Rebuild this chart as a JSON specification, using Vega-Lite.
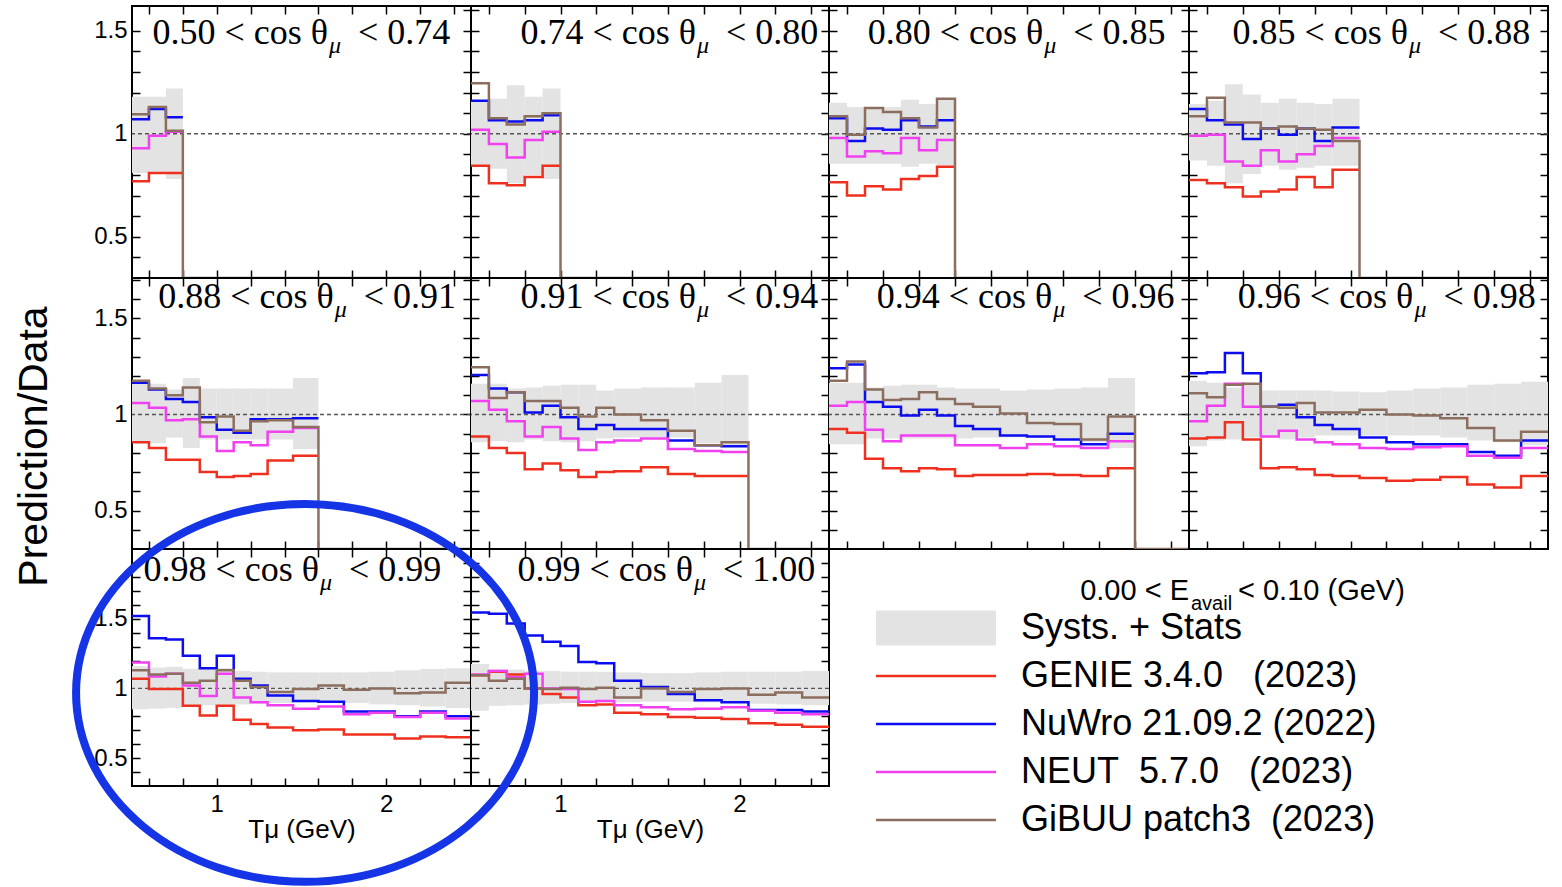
{
"$schema": "https://vega.github.io/schema/vega-lite/v6.json",
"background": "white",
"padding": {"left": 11, "top": 4, "right": 0, "bottom": 0},
"columns": 4,
"spacing": 0,
"bounds": "flush",
"config": {
  "view": {"stroke": "black", "strokeWidth": 2},
  "concat": {"spacing": 0},
  "axis": {"domain": false, "grid": false, "tickColor": "black", "tickWidth": 1.5, "tickSize": -8, "labelFont": "Liberation Sans", "labelFontSize": 24, "labelColor": "black", "labelOverlap": false, "labelFlush": false, "titleFont": "Liberation Sans", "titleFontWeight": "normal", "titleColor": "black"},
  "axisLeft": {"labelPadding": 13},
  "axisBottom": {"labelPadding": 14},
  "text": {"font": "Liberation Serif", "fontSize": 36, "baseline": "alphabetic", "color": "black"}
},
"datasets": {
"titles": [
{"p":1,"a":"0.50 < cos θ","z":"< 0.74"},{"p":2,"a":"0.74 < cos θ","z":"< 0.80"},{"p":3,"a":"0.80 < cos θ","z":"< 0.85"},{"p":4,"a":"0.85 < cos θ","z":"< 0.88"},{"p":5,"a":"0.88 < cos θ","z":"< 0.91"},{"p":6,"a":"0.91 < cos θ","z":"< 0.94"},{"p":7,"a":"0.94 < cos θ","z":"< 0.96"},{"p":8,"a":"0.96 < cos θ","z":"< 0.98"},{"p":9,"a":"0.98 < cos θ","z":"< 0.99"},{"p":10,"a":"0.99 < cos θ","z":"< 1.00"}
],
"leg": [
{"k":"hdr","m":"Header"},
{"k":"Systs. + Stats","m":"Band"},
{"k":"GENIE 3.4.0\u00a0\u00a0\u00a0(2023)","m":"GENIE"},
{"k":"NuWro 21.09.2 (2022)","m":"NuWro"},
{"k":"NEUT\u00a0\u00a05.7.0\u00a0\u00a0\u00a0(2023)","m":"NEUT"},
{"k":"GiBUU patch3\u00a0\u00a0(2023)","m":"GiBUU"}
],
"bins": [
{"p":1,"lo":0.5,"hi":0.6,"GENIE":0.77,"NuWro":1.07,"NEUT":0.93,"GiBUU":1.095,"slo":0.81,"shi":1.18},
{"p":1,"lo":0.6,"hi":0.7,"GENIE":0.81,"NuWro":1.12,"NEUT":0.99,"GiBUU":1.13,"slo":0.81,"shi":1.18},
{"p":1,"lo":0.7,"hi":0.8,"GENIE":0.81,"NuWro":1.08,"NEUT":1.01,"GiBUU":1.015,"slo":0.78,"shi":1.22},
{"p":1,"lo":0.8,"hi":0.9,"GiBUU":0},{"p":1,"lo":0.9,"hi":1.0,"GiBUU":0},{"p":1,"lo":1.0,"hi":1.1,"GiBUU":0},{"p":1,"lo":1.1,"hi":1.2,"GiBUU":0},{"p":1,"lo":1.2,"hi":1.3,"GiBUU":0},{"p":1,"lo":1.3,"hi":1.45,"GiBUU":0},{"p":1,"lo":1.45,"hi":1.6,"GiBUU":0},{"p":1,"lo":1.6,"hi":1.75,"GiBUU":0},{"p":1,"lo":1.75,"hi":1.9,"GiBUU":0},{"p":1,"lo":1.9,"hi":2.05,"GiBUU":0},{"p":1,"lo":2.05,"hi":2.2,"GiBUU":0},{"p":1,"lo":2.2,"hi":2.35,"GiBUU":0},{"p":1,"lo":2.35,"hi":2.5,"GiBUU":0},
{"p":2,"lo":0.5,"hi":0.6,"GENIE":0.845,"NuWro":1.16,"NEUT":1.02,"GiBUU":1.245,"slo":0.845,"shi":1.16},
{"p":2,"lo":0.6,"hi":0.7,"GENIE":0.76,"NuWro":1.065,"NEUT":0.95,"GiBUU":1.075,"slo":0.83,"shi":1.17},
{"p":2,"lo":0.7,"hi":0.8,"GENIE":0.75,"NuWro":1.06,"NEUT":0.885,"GiBUU":1.045,"slo":0.76,"shi":1.235},
{"p":2,"lo":0.8,"hi":0.9,"GENIE":0.79,"NuWro":1.065,"NEUT":0.97,"GiBUU":1.085,"slo":0.8,"shi":1.18},
{"p":2,"lo":0.9,"hi":1.0,"GENIE":0.845,"NuWro":1.09,"NEUT":1.01,"GiBUU":1.1,"slo":0.78,"shi":1.22},
{"p":2,"lo":1.0,"hi":1.1,"GiBUU":0},{"p":2,"lo":1.1,"hi":1.2,"GiBUU":0},{"p":2,"lo":1.2,"hi":1.3,"GiBUU":0},{"p":2,"lo":1.3,"hi":1.45,"GiBUU":0},{"p":2,"lo":1.45,"hi":1.6,"GiBUU":0},{"p":2,"lo":1.6,"hi":1.75,"GiBUU":0},{"p":2,"lo":1.75,"hi":1.9,"GiBUU":0},{"p":2,"lo":1.9,"hi":2.05,"GiBUU":0},{"p":2,"lo":2.05,"hi":2.2,"GiBUU":0},{"p":2,"lo":2.2,"hi":2.35,"GiBUU":0},{"p":2,"lo":2.35,"hi":2.5,"GiBUU":0},
{"p":3,"lo":0.5,"hi":0.6,"GENIE":0.765,"NuWro":1.075,"NEUT":0.98,"GiBUU":1.085,"slo":0.855,"shi":1.15},
{"p":3,"lo":0.6,"hi":0.7,"GENIE":0.7,"NuWro":0.965,"NEUT":0.89,"GiBUU":0.995,"slo":0.855,"shi":1.13},
{"p":3,"lo":0.7,"hi":0.8,"GENIE":0.745,"NuWro":1.025,"NEUT":0.915,"GiBUU":1.125,"slo":0.855,"shi":1.13},
{"p":3,"lo":0.8,"hi":0.9,"GENIE":0.73,"NuWro":1.02,"NEUT":0.905,"GiBUU":1.105,"slo":0.855,"shi":1.13},
{"p":3,"lo":0.9,"hi":1.0,"GENIE":0.78,"NuWro":1.065,"NEUT":0.98,"GiBUU":1.075,"slo":0.84,"shi":1.165},
{"p":3,"lo":1.0,"hi":1.1,"GENIE":0.795,"NuWro":1.035,"NEUT":0.92,"GiBUU":1.03,"slo":0.855,"shi":1.145},
{"p":3,"lo":1.1,"hi":1.2,"GENIE":0.84,"NuWro":1.065,"NEUT":0.97,"GiBUU":1.17,"slo":0.845,"shi":1.17},
{"p":3,"lo":1.2,"hi":1.3,"GiBUU":0},{"p":3,"lo":1.3,"hi":1.45,"GiBUU":0},{"p":3,"lo":1.45,"hi":1.6,"GiBUU":0},{"p":3,"lo":1.6,"hi":1.75,"GiBUU":0},{"p":3,"lo":1.75,"hi":1.9,"GiBUU":0},{"p":3,"lo":1.9,"hi":2.05,"GiBUU":0},{"p":3,"lo":2.05,"hi":2.2,"GiBUU":0},{"p":3,"lo":2.2,"hi":2.35,"GiBUU":0},{"p":3,"lo":2.35,"hi":2.5,"GiBUU":0},
{"p":4,"lo":0.5,"hi":0.6,"GENIE":0.775,"NuWro":1.12,"NEUT":0.99,"GiBUU":1.085,"slo":0.87,"shi":1.145},
{"p":4,"lo":0.6,"hi":0.7,"GENIE":0.76,"NuWro":1.065,"NEUT":0.995,"GiBUU":1.175,"slo":0.845,"shi":1.16},
{"p":4,"lo":0.7,"hi":0.8,"GENIE":0.74,"NuWro":1.045,"NEUT":0.865,"GiBUU":1.055,"slo":0.76,"shi":1.24},
{"p":4,"lo":0.8,"hi":0.9,"GENIE":0.695,"NuWro":0.975,"NEUT":0.845,"GiBUU":1.055,"slo":0.805,"shi":1.19},
{"p":4,"lo":0.9,"hi":1.0,"GENIE":0.72,"NuWro":1.025,"NEUT":0.92,"GiBUU":1.025,"slo":0.845,"shi":1.15},
{"p":4,"lo":1.0,"hi":1.1,"GENIE":0.73,"NuWro":0.995,"NEUT":0.865,"GiBUU":1.035,"slo":0.825,"shi":1.17},
{"p":4,"lo":1.1,"hi":1.2,"GENIE":0.79,"NuWro":1.025,"NEUT":0.9,"GiBUU":1.025,"slo":0.835,"shi":1.15},
{"p":4,"lo":1.2,"hi":1.3,"GENIE":0.74,"NuWro":0.965,"NEUT":0.94,"GiBUU":1.02,"slo":0.845,"shi":1.145},
{"p":4,"lo":1.3,"hi":1.45,"GENIE":0.825,"NuWro":1.03,"NEUT":0.98,"GiBUU":0.965,"slo":0.845,"shi":1.17},
{"p":4,"lo":1.45,"hi":1.6,"GiBUU":0},{"p":4,"lo":1.6,"hi":1.75,"GiBUU":0},{"p":4,"lo":1.75,"hi":1.9,"GiBUU":0},{"p":4,"lo":1.9,"hi":2.05,"GiBUU":0},{"p":4,"lo":2.05,"hi":2.2,"GiBUU":0},{"p":4,"lo":2.2,"hi":2.35,"GiBUU":0},{"p":4,"lo":2.35,"hi":2.5,"GiBUU":0},
{"p":5,"lo":0.5,"hi":0.6,"GENIE":0.855,"NuWro":1.165,"NEUT":1.06,"GiBUU":1.175,"slo":0.85,"shi":1.16},
{"p":5,"lo":0.6,"hi":0.7,"GENIE":0.825,"NuWro":1.13,"NEUT":1.035,"GiBUU":1.135,"slo":0.85,"shi":1.16},
{"p":5,"lo":0.7,"hi":0.8,"GENIE":0.765,"NuWro":1.08,"NEUT":0.97,"GiBUU":1.1,"slo":0.88,"shi":1.13},
{"p":5,"lo":0.8,"hi":0.9,"GENIE":0.765,"NuWro":1.065,"NEUT":0.975,"GiBUU":1.14,"slo":0.825,"shi":1.19},
{"p":5,"lo":0.9,"hi":1.0,"GENIE":0.7,"NuWro":0.985,"NEUT":0.885,"GiBUU":0.96,"slo":0.87,"shi":1.135},
{"p":5,"lo":1.0,"hi":1.1,"GENIE":0.675,"NuWro":0.92,"NEUT":0.81,"GiBUU":0.99,"slo":0.87,"shi":1.135},
{"p":5,"lo":1.1,"hi":1.2,"GENIE":0.68,"NuWro":0.905,"NEUT":0.855,"GiBUU":0.915,"slo":0.87,"shi":1.135},
{"p":5,"lo":1.2,"hi":1.3,"GENIE":0.69,"NuWro":0.975,"NEUT":0.84,"GiBUU":0.965,"slo":0.87,"shi":1.135},
{"p":5,"lo":1.3,"hi":1.45,"GENIE":0.76,"NuWro":0.975,"NEUT":0.91,"GiBUU":0.97,"slo":0.87,"shi":1.135},
{"p":5,"lo":1.45,"hi":1.6,"GENIE":0.785,"NuWro":0.98,"NEUT":0.93,"GiBUU":0.935,"slo":0.82,"shi":1.19},
{"p":5,"lo":1.6,"hi":1.75,"GiBUU":0},{"p":5,"lo":1.75,"hi":1.9,"GiBUU":0},{"p":5,"lo":1.9,"hi":2.05,"GiBUU":0},{"p":5,"lo":2.05,"hi":2.2,"GiBUU":0},{"p":5,"lo":2.2,"hi":2.35,"GiBUU":0},{"p":5,"lo":2.35,"hi":2.5,"GiBUU":0},
{"p":6,"lo":0.5,"hi":0.6,"GENIE":0.885,"NuWro":1.205,"NEUT":1.07,"GiBUU":1.245,"slo":0.855,"shi":1.16},
{"p":6,"lo":0.6,"hi":0.7,"GENIE":0.825,"NuWro":1.135,"NEUT":1.025,"GiBUU":1.085,"slo":0.86,"shi":1.16},
{"p":6,"lo":0.7,"hi":0.8,"GENIE":0.8,"NuWro":1.115,"NEUT":0.965,"GiBUU":1.115,"slo":0.855,"shi":1.135},
{"p":6,"lo":0.8,"hi":0.9,"GENIE":0.715,"NuWro":1.01,"NEUT":0.885,"GiBUU":1.07,"slo":0.87,"shi":1.14},
{"p":6,"lo":0.9,"hi":1.0,"GENIE":0.745,"NuWro":1.045,"NEUT":0.935,"GiBUU":1.07,"slo":0.86,"shi":1.15},
{"p":6,"lo":1.0,"hi":1.1,"GENIE":0.71,"NuWro":0.985,"NEUT":0.875,"GiBUU":1.035,"slo":0.855,"shi":1.155},
{"p":6,"lo":1.1,"hi":1.2,"GENIE":0.675,"NuWro":0.925,"NEUT":0.815,"GiBUU":0.99,"slo":0.86,"shi":1.155},
{"p":6,"lo":1.2,"hi":1.3,"GENIE":0.7,"NuWro":0.945,"NEUT":0.855,"GiBUU":1.035,"slo":0.875,"shi":1.125},
{"p":6,"lo":1.3,"hi":1.45,"GENIE":0.705,"NuWro":0.925,"NEUT":0.865,"GiBUU":1.0,"slo":0.88,"shi":1.135},
{"p":6,"lo":1.45,"hi":1.6,"GENIE":0.725,"NuWro":0.925,"NEUT":0.875,"GiBUU":0.97,"slo":0.88,"shi":1.14},
{"p":6,"lo":1.6,"hi":1.75,"GENIE":0.69,"NuWro":0.865,"NEUT":0.82,"GiBUU":0.915,"slo":0.88,"shi":1.14},
{"p":6,"lo":1.75,"hi":1.9,"GENIE":0.68,"NuWro":0.84,"NEUT":0.81,"GiBUU":0.84,"slo":0.85,"shi":1.165},
{"p":6,"lo":1.9,"hi":2.05,"GENIE":0.68,"NuWro":0.835,"NEUT":0.805,"GiBUU":0.855,"slo":0.83,"shi":1.205},
{"p":6,"lo":2.05,"hi":2.2,"GiBUU":0},{"p":6,"lo":2.2,"hi":2.35,"GiBUU":0},{"p":6,"lo":2.35,"hi":2.5,"GiBUU":0},
{"p":7,"lo":0.5,"hi":0.6,"GENIE":0.925,"NuWro":1.24,"NEUT":1.045,"GiBUU":1.175,"slo":0.845,"shi":1.165},
{"p":7,"lo":0.6,"hi":0.7,"GENIE":0.905,"NuWro":1.26,"NEUT":1.065,"GiBUU":1.275,"slo":0.845,"shi":1.165},
{"p":7,"lo":0.7,"hi":0.8,"GENIE":0.77,"NuWro":1.065,"NEUT":0.92,"GiBUU":1.13,"slo":0.875,"shi":1.14},
{"p":7,"lo":0.8,"hi":0.9,"GENIE":0.72,"NuWro":1.04,"NEUT":0.86,"GiBUU":1.075,"slo":0.875,"shi":1.15},
{"p":7,"lo":0.9,"hi":1.0,"GENIE":0.705,"NuWro":0.995,"NEUT":0.89,"GiBUU":1.08,"slo":0.875,"shi":1.155},
{"p":7,"lo":1.0,"hi":1.1,"GENIE":0.72,"NuWro":1.025,"NEUT":0.89,"GiBUU":1.115,"slo":0.875,"shi":1.155},
{"p":7,"lo":1.1,"hi":1.2,"GENIE":0.715,"NuWro":0.995,"NEUT":0.89,"GiBUU":1.08,"slo":0.875,"shi":1.14},
{"p":7,"lo":1.2,"hi":1.3,"GENIE":0.68,"NuWro":0.94,"NEUT":0.84,"GiBUU":1.055,"slo":0.875,"shi":1.135},
{"p":7,"lo":1.3,"hi":1.45,"GENIE":0.685,"NuWro":0.925,"NEUT":0.84,"GiBUU":1.04,"slo":0.88,"shi":1.135},
{"p":7,"lo":1.45,"hi":1.6,"GENIE":0.685,"NuWro":0.89,"NEUT":0.825,"GiBUU":1.005,"slo":0.88,"shi":1.125},
{"p":7,"lo":1.6,"hi":1.75,"GENIE":0.69,"NuWro":0.885,"NEUT":0.845,"GiBUU":0.955,"slo":0.88,"shi":1.13},
{"p":7,"lo":1.75,"hi":1.9,"GENIE":0.685,"NuWro":0.87,"NEUT":0.835,"GiBUU":0.95,"slo":0.875,"shi":1.135},
{"p":7,"lo":1.9,"hi":2.05,"GENIE":0.68,"NuWro":0.845,"NEUT":0.825,"GiBUU":0.87,"slo":0.855,"shi":1.14},
{"p":7,"lo":2.05,"hi":2.2,"GENIE":0.72,"NuWro":0.9,"NEUT":0.86,"GiBUU":0.99,"slo":0.825,"shi":1.19},
{"p":7,"lo":2.2,"hi":2.35,"GiBUU":0},{"p":7,"lo":2.35,"hi":2.5,"GiBUU":0},
{"p":8,"lo":0.5,"hi":0.6,"GENIE":0.875,"NuWro":1.215,"NEUT":0.965,"GiBUU":1.11,"slo":0.835,"shi":1.175},
{"p":8,"lo":0.6,"hi":0.7,"GENIE":0.88,"NuWro":1.22,"NEUT":1.045,"GiBUU":1.09,"slo":0.865,"shi":1.165},
{"p":8,"lo":0.7,"hi":0.8,"GENIE":0.96,"NuWro":1.32,"NEUT":1.16,"GiBUU":1.155,"slo":0.87,"shi":1.14},
{"p":8,"lo":0.8,"hi":0.9,"GENIE":0.87,"NuWro":1.215,"NEUT":1.04,"GiBUU":1.16,"slo":0.88,"shi":1.16},
{"p":8,"lo":0.9,"hi":1.0,"GENIE":0.72,"NuWro":1.04,"NEUT":0.885,"GiBUU":1.04,"slo":0.88,"shi":1.125},
{"p":8,"lo":1.0,"hi":1.1,"GENIE":0.725,"NuWro":1.05,"NEUT":0.915,"GiBUU":1.035,"slo":0.87,"shi":1.125},
{"p":8,"lo":1.1,"hi":1.2,"GENIE":0.715,"NuWro":0.985,"NEUT":0.87,"GiBUU":1.06,"slo":0.88,"shi":1.125},
{"p":8,"lo":1.2,"hi":1.3,"GENIE":0.685,"NuWro":0.945,"NEUT":0.855,"GiBUU":1.01,"slo":0.89,"shi":1.125},
{"p":8,"lo":1.3,"hi":1.45,"GENIE":0.68,"NuWro":0.925,"NEUT":0.845,"GiBUU":1.01,"slo":0.89,"shi":1.12},
{"p":8,"lo":1.45,"hi":1.6,"GENIE":0.67,"NuWro":0.88,"NEUT":0.825,"GiBUU":1.025,"slo":0.89,"shi":1.115},
{"p":8,"lo":1.6,"hi":1.75,"GENIE":0.655,"NuWro":0.855,"NEUT":0.82,"GiBUU":1.0,"slo":0.89,"shi":1.125},
{"p":8,"lo":1.75,"hi":1.9,"GENIE":0.66,"NuWro":0.845,"NEUT":0.83,"GiBUU":0.995,"slo":0.89,"shi":1.135},
{"p":8,"lo":1.9,"hi":2.05,"GENIE":0.675,"NuWro":0.845,"NEUT":0.835,"GiBUU":0.98,"slo":0.88,"shi":1.14},
{"p":8,"lo":2.05,"hi":2.2,"GENIE":0.635,"NuWro":0.805,"NEUT":0.785,"GiBUU":0.93,"slo":0.865,"shi":1.155},
{"p":8,"lo":2.2,"hi":2.35,"GENIE":0.62,"NuWro":0.785,"NEUT":0.775,"GiBUU":0.865,"slo":0.855,"shi":1.16},
{"p":8,"lo":2.35,"hi":2.5,"GENIE":0.68,"NuWro":0.865,"NEUT":0.825,"GiBUU":0.91,"slo":0.84,"shi":1.17},
{"p":9,"lo":0.5,"hi":0.6,"GENIE":1.07,"NuWro":1.52,"NEUT":1.185,"GiBUU":1.13,"slo":0.85,"shi":1.16},
{"p":9,"lo":0.6,"hi":0.7,"GENIE":0.995,"NuWro":1.36,"NEUT":1.085,"GiBUU":1.1,"slo":0.855,"shi":1.15},
{"p":9,"lo":0.7,"hi":0.8,"GENIE":0.995,"NuWro":1.35,"NEUT":1.105,"GiBUU":1.105,"slo":0.86,"shi":1.155},
{"p":9,"lo":0.8,"hi":0.9,"GENIE":0.875,"NuWro":1.235,"NEUT":1.02,"GiBUU":1.04,"slo":0.875,"shi":1.14},
{"p":9,"lo":0.9,"hi":1.0,"GENIE":0.805,"NuWro":1.145,"NEUT":0.945,"GiBUU":1.055,"slo":0.88,"shi":1.14},
{"p":9,"lo":1.0,"hi":1.1,"GENIE":0.875,"NuWro":1.235,"NEUT":1.105,"GiBUU":1.13,"slo":0.875,"shi":1.145},
{"p":9,"lo":1.1,"hi":1.2,"GENIE":0.775,"NuWro":1.07,"NEUT":0.935,"GiBUU":1.055,"slo":0.885,"shi":1.125},
{"p":9,"lo":1.2,"hi":1.3,"GENIE":0.745,"NuWro":1.02,"NEUT":0.9,"GiBUU":1.01,"slo":0.89,"shi":1.12},
{"p":9,"lo":1.3,"hi":1.45,"GENIE":0.72,"NuWro":0.95,"NEUT":0.88,"GiBUU":0.975,"slo":0.895,"shi":1.115},
{"p":9,"lo":1.45,"hi":1.6,"GENIE":0.7,"NuWro":0.91,"NEUT":0.855,"GiBUU":0.995,"slo":0.9,"shi":1.115},
{"p":9,"lo":1.6,"hi":1.75,"GENIE":0.705,"NuWro":0.905,"NEUT":0.87,"GiBUU":1.02,"slo":0.9,"shi":1.115},
{"p":9,"lo":1.75,"hi":1.9,"GENIE":0.67,"NuWro":0.835,"NEUT":0.815,"GiBUU":0.99,"slo":0.895,"shi":1.115},
{"p":9,"lo":1.9,"hi":2.05,"GENIE":0.67,"NuWro":0.835,"NEUT":0.825,"GiBUU":1.0,"slo":0.885,"shi":1.12},
{"p":9,"lo":2.05,"hi":2.2,"GENIE":0.64,"NuWro":0.8,"NEUT":0.795,"GiBUU":0.965,"slo":0.88,"shi":1.13},
{"p":9,"lo":2.2,"hi":2.35,"GENIE":0.655,"NuWro":0.835,"NEUT":0.825,"GiBUU":0.97,"slo":0.87,"shi":1.14},
{"p":9,"lo":2.35,"hi":2.5,"GENIE":0.65,"NuWro":0.8,"NEUT":0.785,"GiBUU":1.04,"slo":0.86,"shi":1.145},
{"p":10,"lo":0.5,"hi":0.6,"GENIE":1.095,"NuWro":1.545,"NEUT":1.1,"GiBUU":1.095,"slo":0.84,"shi":1.175},
{"p":10,"lo":0.6,"hi":0.7,"GENIE":1.12,"NuWro":1.535,"NEUT":1.125,"GiBUU":1.055,"slo":0.875,"shi":1.14},
{"p":10,"lo":0.7,"hi":0.8,"GENIE":1.1,"NuWro":1.465,"NEUT":1.08,"GiBUU":1.07,"slo":0.88,"shi":1.135},
{"p":10,"lo":0.8,"hi":0.9,"GENIE":1.0,"NuWro":1.38,"NEUT":1.105,"GiBUU":1.0,"slo":0.885,"shi":1.125},
{"p":10,"lo":0.9,"hi":1.0,"GENIE":0.96,"NuWro":1.335,"NEUT":1.0,"GiBUU":0.995,"slo":0.89,"shi":1.125},
{"p":10,"lo":1.0,"hi":1.1,"GENIE":0.935,"NuWro":1.305,"NEUT":0.995,"GiBUU":1.005,"slo":0.895,"shi":1.12},
{"p":10,"lo":1.1,"hi":1.2,"GENIE":0.88,"NuWro":1.19,"NEUT":0.905,"GiBUU":0.995,"slo":0.9,"shi":1.12},
{"p":10,"lo":1.2,"hi":1.3,"GENIE":0.885,"NuWro":1.18,"NEUT":0.91,"GiBUU":1.005,"slo":0.9,"shi":1.12},
{"p":10,"lo":1.3,"hi":1.45,"GENIE":0.825,"NuWro":1.055,"NEUT":0.88,"GiBUU":0.935,"slo":0.9,"shi":1.115},
{"p":10,"lo":1.45,"hi":1.6,"GENIE":0.815,"NuWro":1.01,"NEUT":0.865,"GiBUU":1.0,"slo":0.905,"shi":1.11},
{"p":10,"lo":1.6,"hi":1.75,"GENIE":0.795,"NuWro":0.96,"NEUT":0.85,"GiBUU":0.975,"slo":0.905,"shi":1.11},
{"p":10,"lo":1.75,"hi":1.9,"GENIE":0.79,"NuWro":0.915,"NEUT":0.855,"GiBUU":0.995,"slo":0.9,"shi":1.115},
{"p":10,"lo":1.9,"hi":2.05,"GENIE":0.78,"NuWro":0.9,"NEUT":0.865,"GiBUU":1.0,"slo":0.895,"shi":1.12},
{"p":10,"lo":2.05,"hi":2.2,"GENIE":0.75,"NuWro":0.845,"NEUT":0.84,"GiBUU":0.955,"slo":0.89,"shi":1.12},
{"p":10,"lo":2.2,"hi":2.35,"GENIE":0.74,"NuWro":0.845,"NEUT":0.825,"GiBUU":0.97,"slo":0.885,"shi":1.12},
{"p":10,"lo":2.35,"hi":2.5,"GENIE":0.725,"NuWro":0.835,"NEUT":0.815,"GiBUU":0.935,"slo":0.88,"shi":1.125}
]
},
"concat": [
{"width":339,"height":272,"resolve":{"axis":{"x":"independent","y":"independent"}},"layer":[
 {"data":{"name":"bins"},"transform":[{"filter":"datum.p == 1 && isValid(datum.slo)"}],"mark":{"type":"rect","color":"#e3e3e3"},"encoding":{"x":{"field":"lo","type":"quantitative","scale":{"domain":[0.5,2.5],"nice":false,"zero":false},"axis":{"orient":"bottom","values":[0.6,0.8,1,1.2,1.4,1.6,1.8,2,2.2,2.4],"labels":false,"title":null}},"x2":{"field":"hi"},"y":{"field":"slo","type":"quantitative","scale":{"domain":[0.3,1.62],"nice":false,"zero":false,"clamp":true},"axis":{"orient":"left","values":[0.4,0.5,0.6,0.7,0.8,0.9,1,1.1,1.2,1.3,1.4,1.5],"labelExpr":"datum.value == 0.5 ? '0.5' : datum.value == 1 ? '1' : datum.value == 1.5 ? '1.5' : ''","title":null}},"y2":{"field":"shi"}}},
 {"data":{"name":"titles"},"transform":[{"filter":"datum.p == 1"}],"mark":{"type":"rule","color":"#555555","strokeDash":[4,3],"strokeWidth":1.4},"encoding":{"y":{"datum":1,"type":"quantitative","axis":null}}},
 {"data":{"name":"bins"},"transform":[{"filter":"datum.p == 1"},{"fold":["GENIE","NuWro","NEUT","GiBUU"],"as":["m","v"]},{"filter":"isValid(datum.v)"},{"fold":["lo","hi"],"as":["edge","x"]}],"mark":{"type":"line","strokeWidth":2.5,"clip":true},"encoding":{"x":{"field":"x","type":"quantitative","axis":{"orient":"top","values":[0.6,0.8,1,1.2,1.4,1.6,1.8,2,2.2,2.4],"labels":false,"title":null}},"y":{"field":"v","type":"quantitative","axis":{"orient":"right","values":[0.4,0.5,0.6,0.7,0.8,0.9,1,1.1,1.2,1.3,1.4,1.5,1.6],"labels":false,"title":null}},"color":{"field":"m","type":"nominal","scale":{"domain":["Band","GENIE","NuWro","NEUT","GiBUU"],"range":["#e3e3e3","#f0301e","#0c0cf0","#f040f0","#8c6e5f"]},"legend":null},"order":[{"field":"x","type":"quantitative"},{"field":"edge","type":"nominal"}]}},
 {"data":{"name":"titles"},"transform":[{"filter":"datum.p == 1"}],"encoding":{"x":{"datum":1.656,"type":"quantitative","axis":null},"y":{"datum":1.437,"type":"quantitative","axis":null}},"layer":[
  {"mark":{"type":"text","align":"right"},"encoding":{"text":{"field":"a"}}},
  {"mark":{"type":"text","align":"left","dx":1,"dy":9,"fontSize":24,"fontStyle":"italic","text":"μ"}},
  {"mark":{"type":"text","align":"left","dx":30},"encoding":{"text":{"field":"z"}}}]}
]},
{"width":358,"height":272,"resolve":{"axis":{"x":"independent","y":"independent"}},"layer":[
 {"data":{"name":"bins"},"transform":[{"filter":"datum.p == 2 && isValid(datum.slo)"}],"mark":{"type":"rect","color":"#e3e3e3"},"encoding":{"x":{"field":"lo","type":"quantitative","scale":{"domain":[0.5,2.5],"nice":false,"zero":false},"axis":{"orient":"bottom","values":[0.6,0.8,1,1.2,1.4,1.6,1.8,2,2.2,2.4],"labels":false,"title":null}},"x2":{"field":"hi"},"y":{"field":"slo","type":"quantitative","scale":{"domain":[0.3,1.62],"nice":false,"zero":false,"clamp":true},"axis":{"orient":"left","values":[0.4,0.5,0.6,0.7,0.8,0.9,1,1.1,1.2,1.3,1.4,1.5,1.6],"labels":false,"title":null}},"y2":{"field":"shi"}}},
 {"data":{"name":"titles"},"transform":[{"filter":"datum.p == 2"}],"mark":{"type":"rule","color":"#555555","strokeDash":[4,3],"strokeWidth":1.4},"encoding":{"y":{"datum":1,"type":"quantitative","axis":null}}},
 {"data":{"name":"bins"},"transform":[{"filter":"datum.p == 2"},{"fold":["GENIE","NuWro","NEUT","GiBUU"],"as":["m","v"]},{"filter":"isValid(datum.v)"},{"fold":["lo","hi"],"as":["edge","x"]}],"mark":{"type":"line","strokeWidth":2.5,"clip":true},"encoding":{"x":{"field":"x","type":"quantitative","axis":{"orient":"top","values":[0.6,0.8,1,1.2,1.4,1.6,1.8,2,2.2,2.4],"labels":false,"title":null}},"y":{"field":"v","type":"quantitative","axis":{"orient":"right","values":[0.4,0.5,0.6,0.7,0.8,0.9,1,1.1,1.2,1.3,1.4,1.5,1.6],"labels":false,"title":null}},"color":{"field":"m","type":"nominal","scale":{"domain":["Band","GENIE","NuWro","NEUT","GiBUU"],"range":["#e3e3e3","#f0301e","#0c0cf0","#f040f0","#8c6e5f"]},"legend":null},"order":[{"field":"x","type":"quantitative"},{"field":"edge","type":"nominal"}]}},
 {"data":{"name":"titles"},"transform":[{"filter":"datum.p == 2"}],"encoding":{"x":{"datum":1.757,"type":"quantitative","axis":null},"y":{"datum":1.437,"type":"quantitative","axis":null}},"layer":[
  {"mark":{"type":"text","align":"right"},"encoding":{"text":{"field":"a"}}},
  {"mark":{"type":"text","align":"left","dx":1,"dy":9,"fontSize":24,"fontStyle":"italic","text":"μ"}},
  {"mark":{"type":"text","align":"left","dx":30},"encoding":{"text":{"field":"z"}}}]}
]},
{"width":360,"height":272,"resolve":{"axis":{"x":"independent","y":"independent"}},"layer":[
 {"data":{"name":"bins"},"transform":[{"filter":"datum.p == 3 && isValid(datum.slo)"}],"mark":{"type":"rect","color":"#e3e3e3"},"encoding":{"x":{"field":"lo","type":"quantitative","scale":{"domain":[0.5,2.5],"nice":false,"zero":false},"axis":{"orient":"bottom","values":[0.6,0.8,1,1.2,1.4,1.6,1.8,2,2.2,2.4],"labels":false,"title":null}},"x2":{"field":"hi"},"y":{"field":"slo","type":"quantitative","scale":{"domain":[0.3,1.62],"nice":false,"zero":false,"clamp":true},"axis":{"orient":"left","values":[0.4,0.5,0.6,0.7,0.8,0.9,1,1.1,1.2,1.3,1.4,1.5,1.6],"labels":false,"title":null}},"y2":{"field":"shi"}}},
 {"data":{"name":"titles"},"transform":[{"filter":"datum.p == 3"}],"mark":{"type":"rule","color":"#555555","strokeDash":[4,3],"strokeWidth":1.4},"encoding":{"y":{"datum":1,"type":"quantitative","axis":null}}},
 {"data":{"name":"bins"},"transform":[{"filter":"datum.p == 3"},{"fold":["GENIE","NuWro","NEUT","GiBUU"],"as":["m","v"]},{"filter":"isValid(datum.v)"},{"fold":["lo","hi"],"as":["edge","x"]}],"mark":{"type":"line","strokeWidth":2.5,"clip":true},"encoding":{"x":{"field":"x","type":"quantitative","axis":{"orient":"top","values":[0.6,0.8,1,1.2,1.4,1.6,1.8,2,2.2,2.4],"labels":false,"title":null}},"y":{"field":"v","type":"quantitative","axis":{"orient":"right","values":[0.4,0.5,0.6,0.7,0.8,0.9,1,1.1,1.2,1.3,1.4,1.5,1.6],"labels":false,"title":null}},"color":{"field":"m","type":"nominal","scale":{"domain":["Band","GENIE","NuWro","NEUT","GiBUU"],"range":["#e3e3e3","#f0301e","#0c0cf0","#f040f0","#8c6e5f"]},"legend":null},"order":[{"field":"x","type":"quantitative"},{"field":"edge","type":"nominal"}]}},
 {"data":{"name":"titles"},"transform":[{"filter":"datum.p == 3"}],"encoding":{"x":{"datum":1.69,"type":"quantitative","axis":null},"y":{"datum":1.437,"type":"quantitative","axis":null}},"layer":[
  {"mark":{"type":"text","align":"right"},"encoding":{"text":{"field":"a"}}},
  {"mark":{"type":"text","align":"left","dx":1,"dy":9,"fontSize":24,"fontStyle":"italic","text":"μ"}},
  {"mark":{"type":"text","align":"left","dx":30},"encoding":{"text":{"field":"z"}}}]}
]},
{"width":359,"height":272,"resolve":{"axis":{"x":"independent","y":"independent"}},"layer":[
 {"data":{"name":"bins"},"transform":[{"filter":"datum.p == 4 && isValid(datum.slo)"}],"mark":{"type":"rect","color":"#e3e3e3"},"encoding":{"x":{"field":"lo","type":"quantitative","scale":{"domain":[0.5,2.5],"nice":false,"zero":false},"axis":{"orient":"bottom","values":[0.6,0.8,1,1.2,1.4,1.6,1.8,2,2.2,2.4],"labels":false,"title":null}},"x2":{"field":"hi"},"y":{"field":"slo","type":"quantitative","scale":{"domain":[0.3,1.62],"nice":false,"zero":false,"clamp":true},"axis":{"orient":"left","values":[0.4,0.5,0.6,0.7,0.8,0.9,1,1.1,1.2,1.3,1.4,1.5,1.6],"labels":false,"title":null}},"y2":{"field":"shi"}}},
 {"data":{"name":"titles"},"transform":[{"filter":"datum.p == 4"}],"mark":{"type":"rule","color":"#555555","strokeDash":[4,3],"strokeWidth":1.4},"encoding":{"y":{"datum":1,"type":"quantitative","axis":null}}},
 {"data":{"name":"bins"},"transform":[{"filter":"datum.p == 4"},{"fold":["GENIE","NuWro","NEUT","GiBUU"],"as":["m","v"]},{"filter":"isValid(datum.v)"},{"fold":["lo","hi"],"as":["edge","x"]}],"mark":{"type":"line","strokeWidth":2.5,"clip":true},"encoding":{"x":{"field":"x","type":"quantitative","axis":{"orient":"top","values":[0.6,0.8,1,1.2,1.4,1.6,1.8,2,2.2,2.4],"labels":false,"title":null}},"y":{"field":"v","type":"quantitative","axis":{"orient":"right","values":[0.4,0.5,0.6,0.7,0.8,0.9,1,1.1,1.2,1.3,1.4,1.5,1.6],"labels":false,"title":null}},"color":{"field":"m","type":"nominal","scale":{"domain":["Band","GENIE","NuWro","NEUT","GiBUU"],"range":["#e3e3e3","#f0301e","#0c0cf0","#f040f0","#8c6e5f"]},"legend":null},"order":[{"field":"x","type":"quantitative"},{"field":"edge","type":"nominal"}]}},
 {"data":{"name":"titles"},"transform":[{"filter":"datum.p == 4"}],"encoding":{"x":{"datum":1.72,"type":"quantitative","axis":null},"y":{"datum":1.437,"type":"quantitative","axis":null}},"layer":[
  {"mark":{"type":"text","align":"right"},"encoding":{"text":{"field":"a"}}},
  {"mark":{"type":"text","align":"left","dx":1,"dy":9,"fontSize":24,"fontStyle":"italic","text":"μ"}},
  {"mark":{"type":"text","align":"left","dx":30},"encoding":{"text":{"field":"z"}}}]}
]},
{"width":339,"height":271,"resolve":{"axis":{"x":"independent","y":"independent"}},"layer":[
 {"data":{"name":"bins"},"transform":[{"filter":"datum.p == 5 && isValid(datum.slo)"}],"mark":{"type":"rect","color":"#e3e3e3"},"encoding":{"x":{"field":"lo","type":"quantitative","scale":{"domain":[0.5,2.5],"nice":false,"zero":false},"axis":{"orient":"bottom","values":[0.6,0.8,1,1.2,1.4,1.6,1.8,2,2.2,2.4],"labels":false,"title":null}},"x2":{"field":"hi"},"y":{"field":"slo","type":"quantitative","scale":{"domain":[0.3,1.71],"nice":false,"zero":false,"clamp":true},"axis":{"orient":"left","values":[0.4,0.5,0.6,0.7,0.8,0.9,1,1.1,1.2,1.3,1.4,1.5,1.6,1.7],"labelExpr":"datum.value == 0.5 ? '0.5' : datum.value == 1 ? '1' : datum.value == 1.5 ? '1.5' : ''","title":"Prediction/Data","titleFontSize":41,"titleX":-98,"titleY":168,"titleBaseline":"middle"}},"y2":{"field":"shi"}}},
 {"data":{"name":"titles"},"transform":[{"filter":"datum.p == 5"}],"mark":{"type":"rule","color":"#555555","strokeDash":[4,3],"strokeWidth":1.4},"encoding":{"y":{"datum":1,"type":"quantitative","axis":null}}},
 {"data":{"name":"bins"},"transform":[{"filter":"datum.p == 5"},{"fold":["GENIE","NuWro","NEUT","GiBUU"],"as":["m","v"]},{"filter":"isValid(datum.v)"},{"fold":["lo","hi"],"as":["edge","x"]}],"mark":{"type":"line","strokeWidth":2.5,"clip":true},"encoding":{"x":{"field":"x","type":"quantitative","axis":{"orient":"top","values":[0.6,0.8,1,1.2,1.4,1.6,1.8,2,2.2,2.4],"labels":false,"title":null}},"y":{"field":"v","type":"quantitative","axis":{"orient":"right","values":[0.4,0.5,0.6,0.7,0.8,0.9,1,1.1,1.2,1.3,1.4,1.5,1.6,1.7],"labels":false,"title":null}},"color":{"field":"m","type":"nominal","scale":{"domain":["Band","GENIE","NuWro","NEUT","GiBUU"],"range":["#e3e3e3","#f0301e","#0c0cf0","#f040f0","#8c6e5f"]},"legend":null},"order":[{"field":"x","type":"quantitative"},{"field":"edge","type":"nominal"}]}},
 {"data":{"name":"titles"},"transform":[{"filter":"datum.p == 5"}],"encoding":{"x":{"datum":1.69,"type":"quantitative","axis":null},"y":{"datum":1.552,"type":"quantitative","axis":null}},"layer":[
  {"mark":{"type":"text","align":"right"},"encoding":{"text":{"field":"a"}}},
  {"mark":{"type":"text","align":"left","dx":1,"dy":9,"fontSize":24,"fontStyle":"italic","text":"μ"}},
  {"mark":{"type":"text","align":"left","dx":30},"encoding":{"text":{"field":"z"}}}]}
]},
{"width":358,"height":271,"resolve":{"axis":{"x":"independent","y":"independent"}},"layer":[
 {"data":{"name":"bins"},"transform":[{"filter":"datum.p == 6 && isValid(datum.slo)"}],"mark":{"type":"rect","color":"#e3e3e3"},"encoding":{"x":{"field":"lo","type":"quantitative","scale":{"domain":[0.5,2.5],"nice":false,"zero":false},"axis":{"orient":"bottom","values":[0.6,0.8,1,1.2,1.4,1.6,1.8,2,2.2,2.4],"labels":false,"title":null}},"x2":{"field":"hi"},"y":{"field":"slo","type":"quantitative","scale":{"domain":[0.3,1.71],"nice":false,"zero":false,"clamp":true},"axis":{"orient":"left","values":[0.4,0.5,0.6,0.7,0.8,0.9,1,1.1,1.2,1.3,1.4,1.5,1.6,1.7],"labels":false,"title":null}},"y2":{"field":"shi"}}},
 {"data":{"name":"titles"},"transform":[{"filter":"datum.p == 6"}],"mark":{"type":"rule","color":"#555555","strokeDash":[4,3],"strokeWidth":1.4},"encoding":{"y":{"datum":1,"type":"quantitative","axis":null}}},
 {"data":{"name":"bins"},"transform":[{"filter":"datum.p == 6"},{"fold":["GENIE","NuWro","NEUT","GiBUU"],"as":["m","v"]},{"filter":"isValid(datum.v)"},{"fold":["lo","hi"],"as":["edge","x"]}],"mark":{"type":"line","strokeWidth":2.5,"clip":true},"encoding":{"x":{"field":"x","type":"quantitative","axis":{"orient":"top","values":[0.6,0.8,1,1.2,1.4,1.6,1.8,2,2.2,2.4],"labels":false,"title":null}},"y":{"field":"v","type":"quantitative","axis":{"orient":"right","values":[0.4,0.5,0.6,0.7,0.8,0.9,1,1.1,1.2,1.3,1.4,1.5,1.6,1.7],"labels":false,"title":null}},"color":{"field":"m","type":"nominal","scale":{"domain":["Band","GENIE","NuWro","NEUT","GiBUU"],"range":["#e3e3e3","#f0301e","#0c0cf0","#f040f0","#8c6e5f"]},"legend":null},"order":[{"field":"x","type":"quantitative"},{"field":"edge","type":"nominal"}]}},
 {"data":{"name":"titles"},"transform":[{"filter":"datum.p == 6"}],"encoding":{"x":{"datum":1.757,"type":"quantitative","axis":null},"y":{"datum":1.552,"type":"quantitative","axis":null}},"layer":[
  {"mark":{"type":"text","align":"right"},"encoding":{"text":{"field":"a"}}},
  {"mark":{"type":"text","align":"left","dx":1,"dy":9,"fontSize":24,"fontStyle":"italic","text":"μ"}},
  {"mark":{"type":"text","align":"left","dx":30},"encoding":{"text":{"field":"z"}}}]}
]},
{"width":360,"height":271,"resolve":{"axis":{"x":"independent","y":"independent"}},"layer":[
 {"data":{"name":"bins"},"transform":[{"filter":"datum.p == 7 && isValid(datum.slo)"}],"mark":{"type":"rect","color":"#e3e3e3"},"encoding":{"x":{"field":"lo","type":"quantitative","scale":{"domain":[0.5,2.5],"nice":false,"zero":false},"axis":{"orient":"bottom","values":[0.6,0.8,1,1.2,1.4,1.6,1.8,2,2.2,2.4],"labels":false,"title":null}},"x2":{"field":"hi"},"y":{"field":"slo","type":"quantitative","scale":{"domain":[0.3,1.71],"nice":false,"zero":false,"clamp":true},"axis":{"orient":"left","values":[0.4,0.5,0.6,0.7,0.8,0.9,1,1.1,1.2,1.3,1.4,1.5,1.6,1.7],"labels":false,"title":null}},"y2":{"field":"shi"}}},
 {"data":{"name":"titles"},"transform":[{"filter":"datum.p == 7"}],"mark":{"type":"rule","color":"#555555","strokeDash":[4,3],"strokeWidth":1.4},"encoding":{"y":{"datum":1,"type":"quantitative","axis":null}}},
 {"data":{"name":"bins"},"transform":[{"filter":"datum.p == 7"},{"fold":["GENIE","NuWro","NEUT","GiBUU"],"as":["m","v"]},{"filter":"isValid(datum.v)"},{"fold":["lo","hi"],"as":["edge","x"]}],"mark":{"type":"line","strokeWidth":2.5,"clip":true},"encoding":{"x":{"field":"x","type":"quantitative","axis":{"orient":"top","values":[0.6,0.8,1,1.2,1.4,1.6,1.8,2,2.2,2.4],"labels":false,"title":null}},"y":{"field":"v","type":"quantitative","axis":{"orient":"right","values":[0.4,0.5,0.6,0.7,0.8,0.9,1,1.1,1.2,1.3,1.4,1.5,1.6,1.7],"labels":false,"title":null}},"color":{"field":"m","type":"nominal","scale":{"domain":["Band","GENIE","NuWro","NEUT","GiBUU"],"range":["#e3e3e3","#f0301e","#0c0cf0","#f040f0","#8c6e5f"]},"legend":null},"order":[{"field":"x","type":"quantitative"},{"field":"edge","type":"nominal"}]}},
 {"data":{"name":"titles"},"transform":[{"filter":"datum.p == 7"}],"encoding":{"x":{"datum":1.74,"type":"quantitative","axis":null},"y":{"datum":1.552,"type":"quantitative","axis":null}},"layer":[
  {"mark":{"type":"text","align":"right"},"encoding":{"text":{"field":"a"}}},
  {"mark":{"type":"text","align":"left","dx":1,"dy":9,"fontSize":24,"fontStyle":"italic","text":"μ"}},
  {"mark":{"type":"text","align":"left","dx":30},"encoding":{"text":{"field":"z"}}}]}
]},
{"width":359,"height":271,"resolve":{"axis":{"x":"independent","y":"independent"}},"layer":[
 {"data":{"name":"bins"},"transform":[{"filter":"datum.p == 8 && isValid(datum.slo)"}],"mark":{"type":"rect","color":"#e3e3e3"},"encoding":{"x":{"field":"lo","type":"quantitative","scale":{"domain":[0.5,2.5],"nice":false,"zero":false},"axis":{"orient":"bottom","values":[0.6,0.8,1,1.2,1.4,1.6,1.8,2,2.2,2.4],"labels":false,"title":null}},"x2":{"field":"hi"},"y":{"field":"slo","type":"quantitative","scale":{"domain":[0.3,1.71],"nice":false,"zero":false,"clamp":true},"axis":{"orient":"left","values":[0.4,0.5,0.6,0.7,0.8,0.9,1,1.1,1.2,1.3,1.4,1.5,1.6,1.7],"labels":false,"title":null}},"y2":{"field":"shi"}}},
 {"data":{"name":"titles"},"transform":[{"filter":"datum.p == 8"}],"mark":{"type":"rule","color":"#555555","strokeDash":[4,3],"strokeWidth":1.4},"encoding":{"y":{"datum":1,"type":"quantitative","axis":null}}},
 {"data":{"name":"bins"},"transform":[{"filter":"datum.p == 8"},{"fold":["GENIE","NuWro","NEUT","GiBUU"],"as":["m","v"]},{"filter":"isValid(datum.v)"},{"fold":["lo","hi"],"as":["edge","x"]}],"mark":{"type":"line","strokeWidth":2.5,"clip":true},"encoding":{"x":{"field":"x","type":"quantitative","axis":{"orient":"top","values":[0.6,0.8,1,1.2,1.4,1.6,1.8,2,2.2,2.4],"labels":false,"title":null}},"y":{"field":"v","type":"quantitative","axis":{"orient":"right","values":[0.4,0.5,0.6,0.7,0.8,0.9,1,1.1,1.2,1.3,1.4,1.5,1.6,1.7],"labels":false,"title":null}},"color":{"field":"m","type":"nominal","scale":{"domain":["Band","GENIE","NuWro","NEUT","GiBUU"],"range":["#e3e3e3","#f0301e","#0c0cf0","#f040f0","#8c6e5f"]},"legend":null},"order":[{"field":"x","type":"quantitative"},{"field":"edge","type":"nominal"}]}},
 {"data":{"name":"titles"},"transform":[{"filter":"datum.p == 8"}],"encoding":{"x":{"datum":1.75,"type":"quantitative","axis":null},"y":{"datum":1.552,"type":"quantitative","axis":null}},"layer":[
  {"mark":{"type":"text","align":"right"},"encoding":{"text":{"field":"a"}}},
  {"mark":{"type":"text","align":"left","dx":1,"dy":9,"fontSize":24,"fontStyle":"italic","text":"μ"}},
  {"mark":{"type":"text","align":"left","dx":30},"encoding":{"text":{"field":"z"}}}]}
]},
{"width":339,"height":237,"resolve":{"axis":{"x":"independent","y":"independent"}},"layer":[
 {"data":{"name":"bins"},"transform":[{"filter":"datum.p == 9 && isValid(datum.slo)"}],"mark":{"type":"rect","color":"#e3e3e3"},"encoding":{"x":{"field":"lo","type":"quantitative","scale":{"domain":[0.5,2.5],"nice":false,"zero":false},"axis":{"orient":"bottom","values":[0.6,0.8,1,1.2,1.4,1.6,1.8,2,2.2,2.4],"labelExpr":"datum.value == 1 ? '1' : datum.value == 2 ? '2' : ''","title":"Tμ (GeV)","titleFontSize":26,"titlePadding":0}},"x2":{"field":"hi"},"y":{"field":"slo","type":"quantitative","scale":{"domain":[0.3,2.0],"nice":false,"zero":false,"clamp":true},"axis":{"orient":"left","values":[0.4,0.5,0.6,0.7,0.8,0.9,1,1.1,1.2,1.3,1.4,1.5,1.6,1.7,1.8,1.9],"labelExpr":"datum.value == 0.5 ? '0.5' : datum.value == 1 ? '1' : datum.value == 1.5 ? '1.5' : ''","title":null}},"y2":{"field":"shi"}}},
 {"data":{"name":"titles"},"transform":[{"filter":"datum.p == 9"}],"mark":{"type":"rule","color":"#555555","strokeDash":[4,3],"strokeWidth":1.4},"encoding":{"y":{"datum":1,"type":"quantitative","axis":null}}},
 {"data":{"name":"bins"},"transform":[{"filter":"datum.p == 9"},{"fold":["GENIE","NuWro","NEUT","GiBUU"],"as":["m","v"]},{"filter":"isValid(datum.v)"},{"fold":["lo","hi"],"as":["edge","x"]}],"mark":{"type":"line","strokeWidth":2.5,"clip":true},"encoding":{"x":{"field":"x","type":"quantitative","axis":{"orient":"top","values":[0.6,0.8,1,1.2,1.4,1.6,1.8,2,2.2,2.4],"labels":false,"title":null}},"y":{"field":"v","type":"quantitative","axis":{"orient":"right","values":[0.4,0.5,0.6,0.7,0.8,0.9,1,1.1,1.2,1.3,1.4,1.5,1.6,1.7,1.8,1.9],"labels":false,"title":null}},"color":{"field":"m","type":"nominal","scale":{"domain":["Band","GENIE","NuWro","NEUT","GiBUU"],"range":["#e3e3e3","#f0301e","#0c0cf0","#f040f0","#8c6e5f"]},"legend":null},"order":[{"field":"x","type":"quantitative"},{"field":"edge","type":"nominal"}]}},
 {"data":{"name":"titles"},"transform":[{"filter":"datum.p == 9"}],"encoding":{"x":{"datum":1.603,"type":"quantitative","axis":null},"y":{"datum":1.773,"type":"quantitative","axis":null}},"layer":[
  {"mark":{"type":"text","align":"right"},"encoding":{"text":{"field":"a"}}},
  {"mark":{"type":"text","align":"left","dx":1,"dy":9,"fontSize":24,"fontStyle":"italic","text":"μ"}},
  {"mark":{"type":"text","align":"left","dx":30},"encoding":{"text":{"field":"z"}}}]}
]},
{"width":358,"height":237,"resolve":{"axis":{"x":"independent","y":"independent"}},"layer":[
 {"data":{"name":"bins"},"transform":[{"filter":"datum.p == 10 && isValid(datum.slo)"}],"mark":{"type":"rect","color":"#e3e3e3"},"encoding":{"x":{"field":"lo","type":"quantitative","scale":{"domain":[0.5,2.5],"nice":false,"zero":false},"axis":{"orient":"bottom","values":[0.6,0.8,1,1.2,1.4,1.6,1.8,2,2.2,2.4],"labelExpr":"datum.value == 1 ? '1' : datum.value == 2 ? '2' : ''","title":"Tμ (GeV)","titleFontSize":26,"titlePadding":0}},"x2":{"field":"hi"},"y":{"field":"slo","type":"quantitative","scale":{"domain":[0.3,2.0],"nice":false,"zero":false,"clamp":true},"axis":{"orient":"left","values":[0.4,0.5,0.6,0.7,0.8,0.9,1,1.1,1.2,1.3,1.4,1.5,1.6,1.7,1.8,1.9],"labels":false,"title":null}},"y2":{"field":"shi"}}},
 {"data":{"name":"titles"},"transform":[{"filter":"datum.p == 10"}],"mark":{"type":"rule","color":"#555555","strokeDash":[4,3],"strokeWidth":1.4},"encoding":{"y":{"datum":1,"type":"quantitative","axis":null}}},
 {"data":{"name":"bins"},"transform":[{"filter":"datum.p == 10"},{"fold":["GENIE","NuWro","NEUT","GiBUU"],"as":["m","v"]},{"filter":"isValid(datum.v)"},{"fold":["lo","hi"],"as":["edge","x"]}],"mark":{"type":"line","strokeWidth":2.5,"clip":true},"encoding":{"x":{"field":"x","type":"quantitative","axis":{"orient":"top","values":[0.6,0.8,1,1.2,1.4,1.6,1.8,2,2.2,2.4],"labels":false,"title":null}},"y":{"field":"v","type":"quantitative","axis":{"orient":"right","values":[0.4,0.5,0.6,0.7,0.8,0.9,1,1.1,1.2,1.3,1.4,1.5,1.6,1.7,1.8,1.9],"labels":false,"title":null}},"color":{"field":"m","type":"nominal","scale":{"domain":["Band","GENIE","NuWro","NEUT","GiBUU"],"range":["#e3e3e3","#f0301e","#0c0cf0","#f040f0","#8c6e5f"]},"legend":null},"order":[{"field":"x","type":"quantitative"},{"field":"edge","type":"nominal"}]}},
 {"data":{"name":"titles"},"transform":[{"filter":"datum.p == 10"}],"encoding":{"x":{"datum":1.74,"type":"quantitative","axis":null},"y":{"datum":1.773,"type":"quantitative","axis":null}},"layer":[
  {"mark":{"type":"text","align":"right"},"encoding":{"text":{"field":"a"}}},
  {"mark":{"type":"text","align":"left","dx":1,"dy":9,"fontSize":24,"fontStyle":"italic","text":"μ"}},
  {"mark":{"type":"text","align":"left","dx":30},"encoding":{"text":{"field":"z"}}}]},
 {"data":{"name":"titles"},"transform":[{"filter":"datum.p == 10"}],"mark":{"type":"point","shape":"M -1 0 A 1 0.825 0 1 0 1 0 A 1 0.825 0 1 0 -1 0 Z","size":209764,"filled":false,"stroke":"#1434e6","strokeWidth":8,"opacity":1,"clip":false},"encoding":{"x":{"datum":-0.427,"type":"quantitative","axis":null},"y":{"datum":0.968,"type":"quantitative","axis":null}}}
]},
{"width":360,"height":237,"view":{"stroke":null},"data":{"name":"leg"},
 "encoding":{"y":{"field":"k","type":"nominal","sort":null,"scale":{"type":"point","domain":["hdr","Systs. + Stats","GENIE 3.4.0\u00a0\u00a0\u00a0(2023)","NuWro 21.09.2 (2022)","NEUT\u00a0\u00a05.7.0\u00a0\u00a0\u00a0(2023)","GiBUU patch3\u00a0\u00a0(2023)"],"range":[31,271],"padding":0},"axis":null}},
 "layer":[
  {"transform":[{"filter":"datum.m == 'Band'"}],"mark":{"type":"tick","orient":"horizontal","size":120,"thickness":35,"opacity":1},"encoding":{"x":{"datum":2.972,"type":"quantitative","scale":{"domain":[0,10],"nice":false,"zero":false},"axis":null},"color":{"field":"m","type":"nominal","scale":{"domain":["Band","GENIE","NuWro","NEUT","GiBUU"],"range":["#e3e3e3","#f0301e","#0c0cf0","#f040f0","#8c6e5f"]},"legend":null}}},
  {"transform":[{"filter":"datum.m != 'Band' && datum.m != 'Header'"}],"mark":{"type":"tick","orient":"horizontal","size":120,"thickness":2.5,"opacity":1},"encoding":{"x":{"datum":2.972,"type":"quantitative","axis":null},"color":{"field":"m","type":"nominal","scale":{"domain":["Band","GENIE","NuWro","NEUT","GiBUU"],"range":["#e3e3e3","#f0301e","#0c0cf0","#f040f0","#8c6e5f"]},"legend":null}}},
  {"transform":[{"filter":"datum.m != 'Header'"}],"mark":{"type":"text","align":"left","baseline":"middle","font":"Liberation Sans","fontSize":36},"encoding":{"x":{"datum":5.333,"type":"quantitative","axis":null},"text":{"field":"k"}}},
  {"transform":[{"filter":"datum.m == 'Header'"}],"encoding":{"x":{"datum":10.0,"type":"quantitative","axis":null}},"layer":[
   {"mark":{"type":"text","align":"right","baseline":"middle","font":"Liberation Sans","fontSize":29,"dy":11,"text":"0.00 < E"}},
   {"mark":{"type":"text","align":"left","baseline":"middle","font":"Liberation Sans","fontSize":20,"dy":24,"dx":2,"text":"avail"}},
   {"mark":{"type":"text","align":"left","baseline":"middle","font":"Liberation Sans","fontSize":29,"dy":11,"dx":49,"text":"< 0.10 (GeV)"}}]}
 ]}
]
}
